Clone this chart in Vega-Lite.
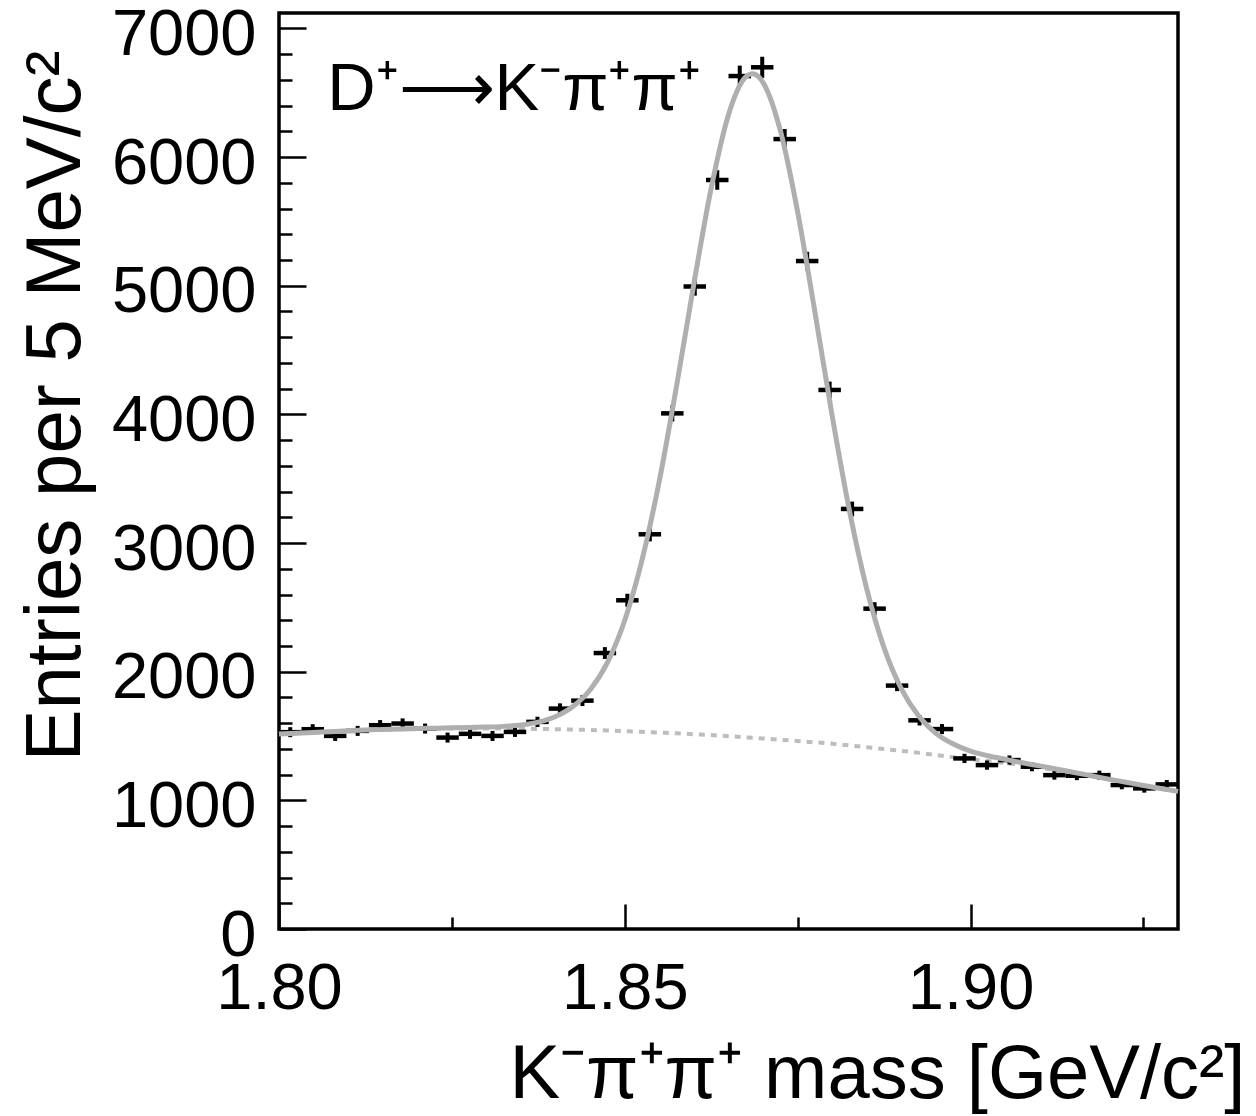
{
  "$schema": "https://vega.github.io/schema/vega-lite/v6.json",
  "width": 899,
  "height": 916,
  "autosize": {"type": "none"},
  "padding": {"left": 279, "top": 13, "right": 78, "bottom": 187},
  "background": "white",
  "config": {
    "font": "Liberation Sans",
    "view": {"stroke": "black", "strokeWidth": 3.5},
    "axis": {
      "domain": false, "grid": false, "tickColor": "black", "tickWidth": 2.5,
      "labelColor": "black", "titleColor": "black",
      "labelFont": "Liberation Sans", "titleFont": "Liberation Sans",
      "labelFontSize": 65, "titleFontSize": 78, "titleFontWeight": "normal",
      "labelFlush": false, "labelOverlap": false
    }
  },
  "datasets": {
    "curve": [
      {"x": 1.8, "fit": 1515, "bg": 1515}, {"x": 1.8025, "fit": 1522, "bg": 1522},
      {"x": 1.805, "fit": 1528, "bg": 1528}, {"x": 1.8075, "fit": 1534, "bg": 1534},
      {"x": 1.81, "fit": 1541, "bg": 1540}, {"x": 1.8125, "fit": 1547, "bg": 1545},
      {"x": 1.815, "fit": 1551, "bg": 1549}, {"x": 1.8175, "fit": 1555, "bg": 1552},
      {"x": 1.82, "fit": 1558, "bg": 1555}, {"x": 1.8225, "fit": 1561, "bg": 1557},
      {"x": 1.825, "fit": 1564, "bg": 1558}, {"x": 1.8275, "fit": 1567, "bg": 1559},
      {"x": 1.83, "fit": 1570, "bg": 1559}, {"x": 1.8325, "fit": 1575, "bg": 1558},
      {"x": 1.835, "fit": 1585, "bg": 1557}, {"x": 1.8375, "fit": 1608, "bg": 1555},
      {"x": 1.84, "fit": 1652, "bg": 1553}, {"x": 1.8425, "fit": 1730, "bg": 1550},
      {"x": 1.845, "fit": 1860, "bg": 1547}, {"x": 1.8475, "fit": 2072, "bg": 1543},
      {"x": 1.85, "fit": 2400, "bg": 1538}, {"x": 1.8525, "fit": 2869, "bg": 1533},
      {"x": 1.855, "fit": 3485, "bg": 1527}, {"x": 1.8575, "fit": 4224, "bg": 1521},
      {"x": 1.86, "fit": 5017, "bg": 1514}, {"x": 1.8625, "fit": 5759, "bg": 1507},
      {"x": 1.865, "fit": 6330, "bg": 1499}, {"x": 1.8675, "fit": 6623, "bg": 1490},
      {"x": 1.8685, "fit": 6647, "bg": 1486}, {"x": 1.87, "fit": 6579, "bg": 1481},
      {"x": 1.8725, "fit": 6205, "bg": 1471}, {"x": 1.875, "fit": 5573, "bg": 1461},
      {"x": 1.8775, "fit": 4794, "bg": 1451}, {"x": 1.88, "fit": 3987, "bg": 1440},
      {"x": 1.8825, "fit": 3249, "bg": 1427}, {"x": 1.885, "fit": 2642, "bg": 1413},
      {"x": 1.8875, "fit": 2185, "bg": 1399}, {"x": 1.89, "fit": 1866, "bg": 1385},
      {"x": 1.8925, "fit": 1655, "bg": 1369}, {"x": 1.895, "fit": 1521, "bg": 1352},
      {"x": 1.8975, "fit": 1438, "bg": 1336}, {"x": 1.9, "fit": 1383, "bg": 1320},
      {"x": 1.9025, "fit": 1347, "bg": 1305}, {"x": 1.905, "fit": 1319, "bg": 1290},
      {"x": 1.9075, "fit": 1292, "bg": 1272}, {"x": 1.91, "fit": 1268, "bg": 1254},
      {"x": 1.9125, "fit": 1242, "bg": 1232}, {"x": 1.915, "fit": 1217, "bg": 1210},
      {"x": 1.9175, "fit": 1191, "bg": 1186}, {"x": 1.92, "fit": 1165, "bg": 1162},
      {"x": 1.9225, "fit": 1141, "bg": 1139}, {"x": 1.925, "fit": 1116, "bg": 1115},
      {"x": 1.9275, "fit": 1092, "bg": 1092}, {"x": 1.93, "fit": 1070, "bg": 1070}
    ],
    "bins": [
      {"lo": 1.8, "hi": 1.80325, "c": 1.801625, "n": 1530, "elo": 1491, "ehi": 1569},
      {"lo": 1.80325, "hi": 1.8065, "c": 1.804875, "n": 1553, "elo": 1514, "ehi": 1592},
      {"lo": 1.8065, "hi": 1.80975, "c": 1.808125, "n": 1501, "elo": 1462, "ehi": 1540},
      {"lo": 1.80975, "hi": 1.813, "c": 1.811375, "n": 1540, "elo": 1501, "ehi": 1579},
      {"lo": 1.813, "hi": 1.81625, "c": 1.814625, "n": 1584, "elo": 1544, "ehi": 1624},
      {"lo": 1.81625, "hi": 1.8195, "c": 1.817875, "n": 1597, "elo": 1557, "ehi": 1637},
      {"lo": 1.8195, "hi": 1.82275, "c": 1.821125, "n": 1558, "elo": 1519, "ehi": 1597},
      {"lo": 1.82275, "hi": 1.826, "c": 1.824375, "n": 1488, "elo": 1449, "ehi": 1527},
      {"lo": 1.826, "hi": 1.82925, "c": 1.827625, "n": 1517, "elo": 1478, "ehi": 1556},
      {"lo": 1.82925, "hi": 1.8325, "c": 1.830875, "n": 1501, "elo": 1462, "ehi": 1540},
      {"lo": 1.8325, "hi": 1.83575, "c": 1.834125, "n": 1532, "elo": 1493, "ehi": 1571},
      {"lo": 1.83575, "hi": 1.839, "c": 1.837375, "n": 1610, "elo": 1570, "ehi": 1650},
      {"lo": 1.839, "hi": 1.84225, "c": 1.840625, "n": 1713, "elo": 1672, "ehi": 1754},
      {"lo": 1.84225, "hi": 1.8455, "c": 1.843875, "n": 1775, "elo": 1733, "ehi": 1817},
      {"lo": 1.8455, "hi": 1.84875, "c": 1.847125, "n": 2145, "elo": 2099, "ehi": 2191},
      {"lo": 1.84875, "hi": 1.852, "c": 1.850375, "n": 2555, "elo": 2504, "ehi": 2606},
      {"lo": 1.852, "hi": 1.85525, "c": 1.853625, "n": 3068, "elo": 3013, "ehi": 3123},
      {"lo": 1.85525, "hi": 1.8585, "c": 1.856875, "n": 4008, "elo": 3945, "ehi": 4071},
      {"lo": 1.8585, "hi": 1.86175, "c": 1.860125, "n": 4994, "elo": 4923, "ehi": 5065},
      {"lo": 1.86175, "hi": 1.865, "c": 1.863375, "n": 5822, "elo": 5746, "ehi": 5898},
      {"lo": 1.865, "hi": 1.86825, "c": 1.866625, "n": 6630, "elo": 6549, "ehi": 6711},
      {"lo": 1.86825, "hi": 1.8715, "c": 1.869875, "n": 6698, "elo": 6616, "ehi": 6780},
      {"lo": 1.8715, "hi": 1.87475, "c": 1.873125, "n": 6140, "elo": 6062, "ehi": 6218},
      {"lo": 1.87475, "hi": 1.878, "c": 1.876375, "n": 5192, "elo": 5120, "ehi": 5264},
      {"lo": 1.878, "hi": 1.88125, "c": 1.879625, "n": 4190, "elo": 4125, "ehi": 4255},
      {"lo": 1.88125, "hi": 1.8845, "c": 1.882875, "n": 3265, "elo": 3208, "ehi": 3322},
      {"lo": 1.8845, "hi": 1.88775, "c": 1.886125, "n": 2490, "elo": 2440, "ehi": 2540},
      {"lo": 1.88775, "hi": 1.891, "c": 1.889375, "n": 1892, "elo": 1849, "ehi": 1936},
      {"lo": 1.891, "hi": 1.89425, "c": 1.892625, "n": 1622, "elo": 1582, "ehi": 1662},
      {"lo": 1.89425, "hi": 1.8975, "c": 1.895875, "n": 1554, "elo": 1515, "ehi": 1593},
      {"lo": 1.8975, "hi": 1.90075, "c": 1.899125, "n": 1326, "elo": 1290, "ehi": 1362},
      {"lo": 1.90075, "hi": 1.904, "c": 1.902375, "n": 1274, "elo": 1238, "ehi": 1310},
      {"lo": 1.904, "hi": 1.90725, "c": 1.905625, "n": 1313, "elo": 1277, "ehi": 1349},
      {"lo": 1.90725, "hi": 1.9105, "c": 1.908875, "n": 1261, "elo": 1226, "ehi": 1297},
      {"lo": 1.9105, "hi": 1.91375, "c": 1.912125, "n": 1196, "elo": 1161, "ehi": 1231},
      {"lo": 1.91375, "hi": 1.917, "c": 1.915375, "n": 1191, "elo": 1157, "ehi": 1226},
      {"lo": 1.917, "hi": 1.92025, "c": 1.918625, "n": 1196, "elo": 1161, "ehi": 1231},
      {"lo": 1.92025, "hi": 1.9235, "c": 1.921875, "n": 1119, "elo": 1086, "ehi": 1153},
      {"lo": 1.9235, "hi": 1.92675, "c": 1.925125, "n": 1093, "elo": 1060, "ehi": 1126},
      {"lo": 1.92675, "hi": 1.93, "c": 1.928375, "n": 1124, "elo": 1091, "ehi": 1158}
    ],
    "label": [
      {"x": 1.80696, "y": 6366, "t": "D⁺⟶K⁻π⁺π⁺"}
    ]
  },
  "layer": [
    {
      "data": {"name": "curve"},
      "mark": {"type": "line", "color": "#bdbdbd", "strokeWidth": 4, "strokeDash": [6, 6], "interpolate": "monotone"},
      "encoding": {
        "x": {
          "field": "x", "type": "quantitative",
          "scale": {"domain": [1.8, 1.93], "nice": false, "zero": false},
          "axis": {
            "orient": "bottom", "values": [1.8, 1.85, 1.9], "format": ".2f",
            "tickSize": -25, "labelPadding": 53,
            "title": "K⁻π⁺π⁺  mass [GeV/c²]", "titleFontSize": 76,
            "titleX": 966, "titleY": 168, "titleAlign": "right", "titleBaseline": "alphabetic"
          }
        },
        "y": {
          "field": "bg", "type": "quantitative",
          "scale": {"domain": [0, 7120], "nice": false},
          "axis": {
            "orient": "left", "values": [0, 1000, 2000, 3000, 4000, 5000, 6000, 7000], "format": "d",
            "tickSize": -27, "labelPadding": 50, "labelBaseline": "alphabetic", "labelOffset": 26,
            "title": "Entries per 5 MeV/c²",
            "titleAngle": -90, "titleX": -200, "titleY": 37, "titleAlign": "right", "titleBaseline": "alphabetic"
          }
        }
      }
    },
    {
      "data": {"name": "bins"},
      "mark": {"type": "rule", "color": "black", "strokeWidth": 4.5},
      "encoding": {
        "x": {"field": "lo", "type": "quantitative", "axis": null},
        "x2": {"field": "hi"},
        "y": {"field": "n", "type": "quantitative", "axis": null}
      }
    },
    {
      "data": {"name": "bins"},
      "mark": {"type": "rule", "color": "black", "strokeWidth": 4},
      "encoding": {
        "x": {"field": "c", "type": "quantitative", "axis": null},
        "y": {"field": "elo", "type": "quantitative", "axis": null},
        "y2": {"field": "ehi"}
      }
    },
    {
      "data": {"name": "curve"},
      "mark": {"type": "line", "color": "#afafaf", "strokeWidth": 5, "interpolate": "monotone"},
      "encoding": {
        "x": {
          "field": "x", "type": "quantitative",
          "axis": {"orient": "bottom", "values": [1.825, 1.875, 1.925], "tickSize": -12, "labels": false, "title": null}
        },
        "y": {
          "field": "fit", "type": "quantitative",
          "axis": {
            "orient": "left", "tickSize": -13, "labels": false, "title": null,
            "values": [200, 400, 600, 800, 1200, 1400, 1600, 1800, 2200, 2400, 2600, 2800, 3200, 3400, 3600, 3800, 4200, 4400, 4600, 4800, 5200, 5400, 5600, 5800, 6200, 6400, 6600, 6800]
          }
        }
      }
    },
    {
      "data": {"name": "label"},
      "mark": {"type": "text", "fontSize": 67, "align": "left", "baseline": "alphabetic", "color": "black"},
      "encoding": {
        "x": {"field": "x", "type": "quantitative", "axis": null},
        "y": {"field": "y", "type": "quantitative", "axis": null},
        "text": {"field": "t"}
      }
    }
  ],
  "resolve": {"axis": {"x": "independent", "y": "independent"}}
}
